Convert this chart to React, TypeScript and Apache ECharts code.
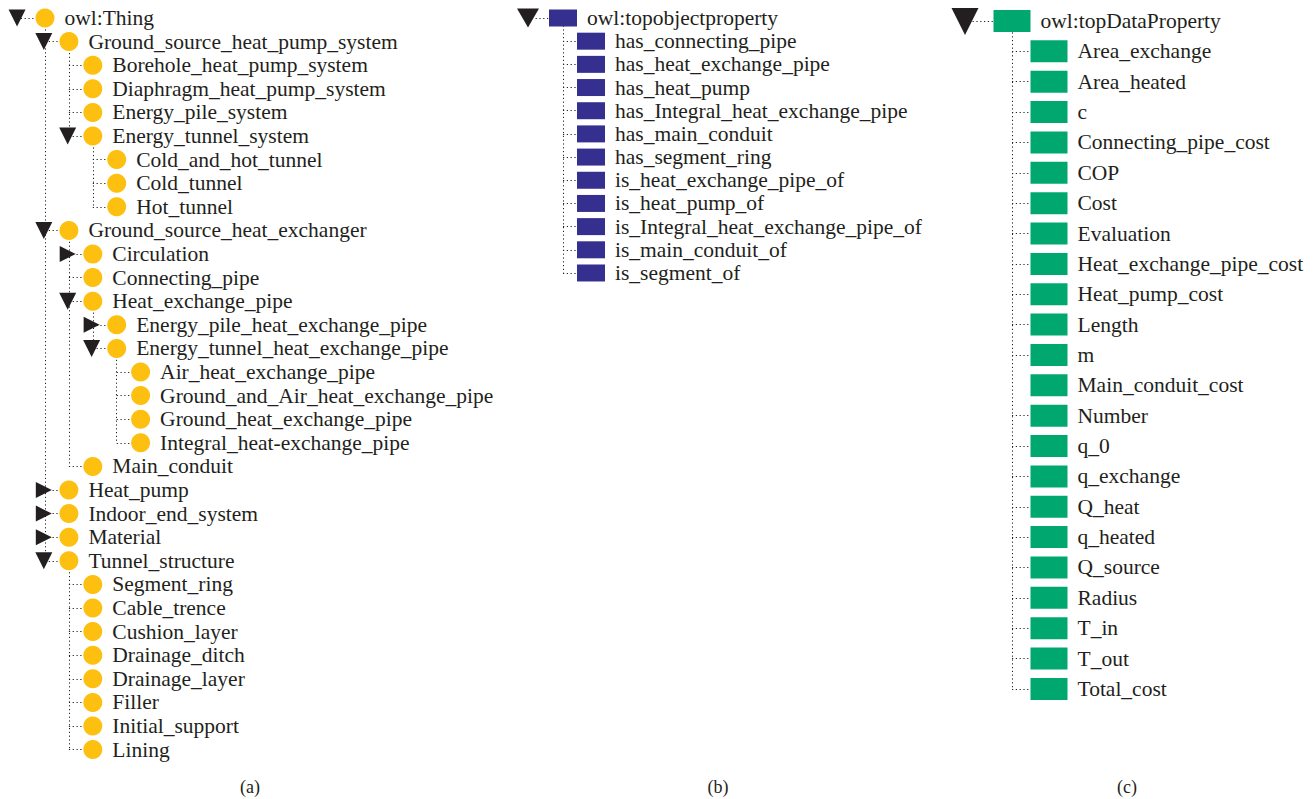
import React, { useEffect, useRef } from 'react';
import * as echarts from 'echarts';

// ---------- data ----------
const classNames = [
  'owl:Thing',
  'Ground_source_heat_pump_system',
  'Borehole_heat_pump_system',
  'Diaphragm_heat_pump_system',
  'Energy_pile_system',
  'Energy_tunnel_system',
  'Cold_and_hot_tunnel',
  'Cold_tunnel',
  'Hot_tunnel',
  'Ground_source_heat_exchanger',
  'Circulation',
  'Connecting_pipe',
  'Heat_exchange_pipe',
  'Energy_pile_heat_exchange_pipe',
  'Energy_tunnel_heat_exchange_pipe',
  'Air_heat_exchange_pipe',
  'Ground_and_Air_heat_exchange_pipe',
  'Ground_heat_exchange_pipe',
  'Integral_heat-exchange_pipe',
  'Main_conduit',
  'Heat_pump',
  'Indoor_end_system',
  'Material',
  'Tunnel_structure',
  'Segment_ring',
  'Cable_trence',
  'Cushion_layer',
  'Drainage_ditch',
  'Drainage_layer',
  'Filler',
  'Initial_support',
  'Lining',
];
const classDepth = [0, 1, 2, 2, 2, 2, 3, 3, 3, 1, 2, 2, 2, 3, 3, 4, 4, 4, 4, 2, 1, 1, 1, 1, 2, 2, 2, 2, 2, 2, 2, 2];
// 'o' = expanded (down arrow), 'c' = collapsed (right arrow), '' = leaf
const classToggle = ['o', 'o', '', '', '', 'o', '', '', '', 'o', 'c', '', 'o', 'c', 'o', '', '', '', '', '', 'c', 'c', 'c', 'o', '', '', '', '', '', '', '', ''];

const objectPropertyNames = [
  'owl:topobjectproperty',
  'has_connecting_pipe',
  'has_heat_exchange_pipe',
  'has_heat_pump',
  'has_Integral_heat_exchange_pipe',
  'has_main_conduit',
  'has_segment_ring',
  'is_heat_exchange_pipe_of',
  'is_heat_pump_of',
  'is_Integral_heat_exchange_pipe_of',
  'is_main_conduit_of',
  'is_segment_of',
];
const objectPropertyDepth = [0, 1, 1, 1, 1, 1, 1, 1, 1, 1, 1, 1];
const objectPropertyToggle = ['o', '', '', '', '', '', '', '', '', '', '', ''];

const dataPropertyNames = [
  'owl:topDataProperty',
  'Area_exchange',
  'Area_heated',
  'c',
  'Connecting_pipe_cost',
  'COP',
  'Cost',
  'Evaluation',
  'Heat_exchange_pipe_cost',
  'Heat_pump_cost',
  'Length',
  'm',
  'Main_conduit_cost',
  'Number',
  'q_0',
  'q_exchange',
  'Q_heat',
  'q_heated',
  'Q_source',
  'Radius',
  'T_in',
  'T_out',
  'Total_cost',
];
const dataPropertyDepth = [0, 1, 1, 1, 1, 1, 1, 1, 1, 1, 1, 1, 1, 1, 1, 1, 1, 1, 1, 1, 1, 1, 1];
const dataPropertyToggle = ['o', '', '', '', '', '', '', '', '', '', '', '', '', '', '', '', '', '', '', '', '', '', ''];
const dataPropertyNoConnector = ['Main_conduit_cost'];

const captions = ['(a)', '(b)', '(c)'];

// ---------- styling / layout ----------
const W = 1315;
const H = 799;
const INK = '#231f20';
const FONT = "'Liberation Serif', 'DejaVu Serif', serif";
const DOWN = 'path://M0,0L10,0L5,9Z';
const RIGHT = 'path://M0,0L9,5L0,10Z';

type PanelCfg = {
  names: string[];
  depths: number[];
  toggles: string[];
  noConnector: string[];
  xOrigin: number;
  xStep: number;
  yOrigin: number;
  yStep: number;
  symbol: string;
  symbolSize: number | number[];
  color: string;
  rootToggleOffset: number;
  childToggleOffset: number;
  downSize: number[];
  rightSize: number[];
  labelDistance: number;
  captionX: number;
};

const panels: PanelCfg[] = [
  {
    names: classNames,
    depths: classDepth,
    toggles: classToggle,
    noConnector: [],
    xOrigin: 45,
    xStep: 23.9,
    yOrigin: 18,
    yStep: 23.6,
    symbol: 'circle',
    symbolSize: 19,
    color: '#fdc010',
    rootToggleOffset: -1.17,
    childToggleOffset: -1.05,
    downSize: [17, 17],
    rightSize: [16, 16],
    labelDistance: 10,
    captionX: 250,
  },
  {
    names: objectPropertyNames,
    depths: objectPropertyDepth,
    toggles: objectPropertyToggle,
    noConnector: [],
    xOrigin: 563,
    xStep: 28,
    yOrigin: 18,
    yStep: 23.18,
    symbol: 'rect',
    symbolSize: [28, 17],
    color: '#352f8f',
    rootToggleOffset: -1.25,
    childToggleOffset: -1,
    downSize: [22, 19],
    rightSize: [19, 20],
    labelDistance: 10,
    captionX: 718,
  },
  {
    names: dataPropertyNames,
    depths: dataPropertyDepth,
    toggles: dataPropertyToggle,
    noConnector: dataPropertyNoConnector,
    xOrigin: 1012,
    xStep: 37,
    yOrigin: 21,
    yStep: 30.36,
    symbol: 'rect',
    symbolSize: [37, 22],
    color: '#00a870',
    rootToggleOffset: -1.27,
    childToggleOffset: -1,
    downSize: [28, 28],
    rightSize: [24, 28],
    labelDistance: 10,
    captionX: 1127,
  },
];

function buildPanel(p: PanelCfg, idx: number) {
  const n = p.names.length;
  const parent: number[] = [];
  for (let i = 0; i < n; i++) {
    let par = -1;
    for (let j = i - 1; j >= 0; j--) {
      if (p.depths[j] === p.depths[i] - 1) {
        par = j;
        break;
      }
    }
    parent.push(par);
  }
  const segs: any[] = [];
  // vertical lines from each parent down to its last child
  for (let i = 0; i < n; i++) {
    let last = -1;
    for (let k = 0; k < n; k++) if (parent[k] === i) last = k;
    if (last >= 0) {
      segs.push({ coords: [[p.depths[i], i], [p.depths[i], last]] });
    }
  }
  // horizontal connectors
  for (let i = 0; i < n; i++) {
    if (parent[i] < 0) {
      if (p.toggles[i]) {
        segs.push({ coords: [[p.depths[i] + p.rootToggleOffset, i], [p.depths[i], i]] });
      }
      continue;
    }
    if (p.noConnector.indexOf(p.names[i]) >= 0) continue;
    segs.push({ coords: [[p.depths[parent[i]], i], [p.depths[i], i]] });
  }

  const nodes = p.names.map((name, i) => ({
    name,
    value: [p.depths[i], i],
  }));
  const toggles: any[] = [];
  p.names.forEach((name, i) => {
    const t = p.toggles[i];
    if (!t) return;
    const off = parent[i] < 0 ? p.rootToggleOffset : p.childToggleOffset;
    toggles.push({
      name,
      value: [p.depths[i] + off, i],
      symbol: t === 'o' ? DOWN : RIGHT,
      symbolSize: t === 'o' ? p.downSize : p.rightSize,
    });
  });

  return [
    {
      type: 'lines',
      coordinateSystem: 'cartesian2d',
      xAxisIndex: idx,
      yAxisIndex: idx,
      silent: true,
      z: 1,
      lineStyle: { color: INK, width: 1, type: [1.2, 2.6], opacity: 1 },
      data: segs,
    },
    {
      type: 'scatter',
      xAxisIndex: idx,
      yAxisIndex: idx,
      z: 3,
      symbol: p.symbol,
      symbolSize: p.symbolSize,
      itemStyle: { color: p.color, opacity: 1 },
      label: {
        show: true,
        position: 'right',
        distance: p.labelDistance,
        formatter: '{b}',
        color: INK,
        fontSize: 21.5,
        fontFamily: FONT,
      },
      emphasis: { disabled: true },
      data: nodes,
    },
    {
      type: 'scatter',
      xAxisIndex: idx,
      yAxisIndex: idx,
      z: 4,
      itemStyle: { color: INK, opacity: 1 },
      emphasis: { disabled: true },
      data: toggles,
    },
  ];
}

export default function App() {
  const ref = useRef<HTMLDivElement>(null);
  useEffect(() => {
    if (!ref.current) return;
    const chart = echarts.init(ref.current, undefined, { renderer: 'svg' });
    const grids = panels.map(() => ({ left: 0, top: 0, width: W, height: H, containLabel: false }));
    const xAxes = panels.map((p, i) => {
      const min = -p.xOrigin / p.xStep;
      return { type: 'value', gridIndex: i, min, max: min + W / p.xStep, show: false };
    });
    const yAxes = panels.map((p, i) => {
      const min = -p.yOrigin / p.yStep;
      return { type: 'value', gridIndex: i, min, max: min + H / p.yStep, inverse: true, show: false };
    });
    const series: any[] = [];
    panels.forEach((p, i) => series.push(...buildPanel(p, i)));
    chart.setOption({
      animation: false,
      backgroundColor: '#ffffff',
      grid: grids,
      xAxis: xAxes,
      yAxis: yAxes,
      tooltip: { show: false },
      series,
      graphic: captions.map((c, i) => ({
        type: 'text',
        x: panels[i].captionX,
        y: 787,
        style: {
          text: c,
          fill: INK,
          font: `18px ${FONT}`,
          align: 'center',
          verticalAlign: 'middle',
        },
      })),
    });
    return () => chart.dispose();
  }, []);
  return (
    <div
      ref={ref}
      style={{ position: 'relative', marginLeft: -8, marginTop: -8, width: W, height: H, background: '#fff' }}
    />
  );
}
